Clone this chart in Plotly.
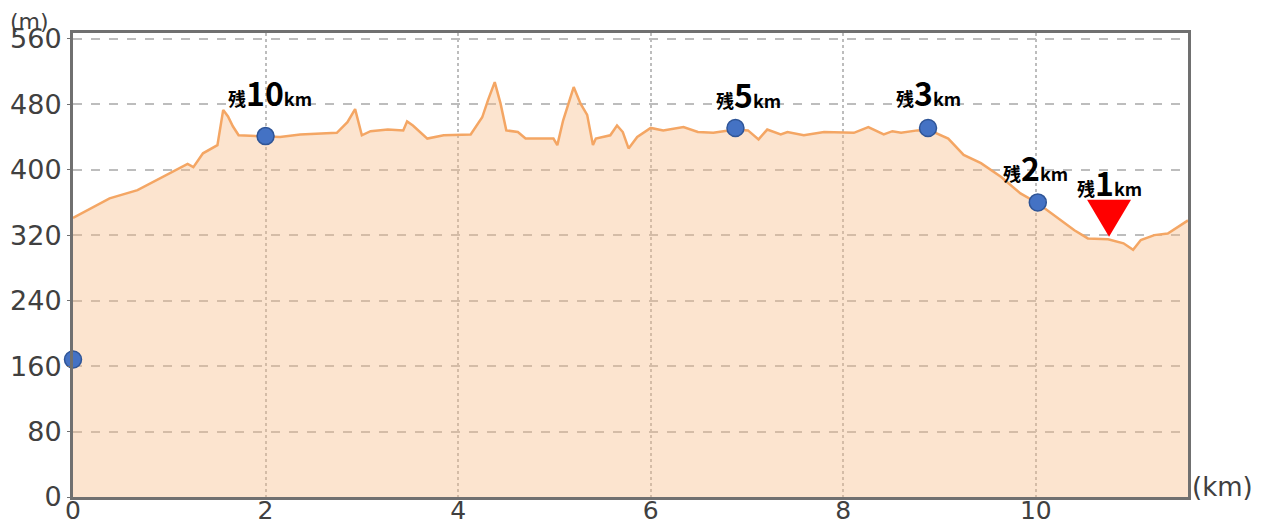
import plotly.graph_objects as go

# elevation profile (km, m)
dist_km = [0, 0.16, 0.38, 0.67, 1.01, 1.19, 1.25, 1.35, 1.50, 1.56, 1.61, 1.66, 1.72,
           2.02, 2.15, 2.36, 2.74, 2.85, 2.93, 3.00, 3.09, 3.27, 3.43, 3.47, 3.53, 3.68,
           3.85, 4.13, 4.25, 4.31, 4.38, 4.44, 4.50, 4.62, 4.70, 4.99, 5.03, 5.09, 5.20,
           5.27, 5.34, 5.40, 5.43, 5.58, 5.65, 5.71, 5.77, 5.86, 6.00, 6.13, 6.34, 6.49,
           6.65, 6.88, 7.01, 7.12, 7.21, 7.35, 7.42, 7.59, 7.80, 8.11, 8.26, 8.42, 8.51,
           8.60, 8.77, 8.88, 9.09, 9.25, 9.43, 9.64, 9.84, 10.02, 10.19, 10.40, 10.54,
           10.75, 10.91, 11.01, 11.09, 11.23, 11.37, 11.58]
elev_m = [341, 351, 365, 375, 396, 407, 403, 420, 430, 473, 465, 453, 442,
          441, 440, 443, 445, 458, 474, 442, 447, 449, 448, 459, 454, 438,
          442, 443, 464, 485, 507, 481, 448, 446, 438, 438, 430, 460, 501,
          481, 467, 430, 438, 442, 454, 446, 426, 440, 451, 448, 452, 446,
          445, 449, 448, 437, 449, 443, 446, 442, 446, 445, 452, 443, 447,
          445, 448, 449, 438, 418, 408, 391, 371, 359, 344, 326, 316,
          315, 310, 302, 314, 320, 322, 338]

# checkpoint markers
mark_x = [0, 2.0, 6.88, 8.88, 10.02]
mark_y = [168, 441, 451, 451, 360]

# remaining-distance labels
label_num = ["10", "5", "3", "2", "1"]
label_x = [2.05, 7.02, 8.88, 10.0, 10.76]
label_y = [495, 493, 495, 403, 385]

# 1 km remaining triangle
tri_x = [10.76]
tri_y = [318]

x_ticks = [0, 2, 4, 6, 8, 10]
y_ticks = [0, 80, 160, 240, 320, 400, 480, 560]

fig = go.Figure()
fig.add_trace(go.Scatter(
    x=dist_km, y=elev_m, mode="lines",
    line=dict(color="#F4A664", width=2.5),
    fill="tozeroy", fillcolor="rgba(247,187,135,0.4)",
    hoverinfo="skip", showlegend=False))
fig.add_trace(go.Scatter(
    x=mark_x, y=mark_y, mode="markers",
    marker=dict(size=17, color="#4472C4", line=dict(color="#2F5597", width=1.5)),
    cliponaxis=False, showlegend=False))

for n, lx, ly in zip(label_num, label_x, label_y):
    fig.add_annotation(
        x=lx, y=ly, xref="x", yref="y", showarrow=False,
        xanchor="center", yanchor="middle",
        text=('<b><span style="font-size:18px">残</span>'
              f'<span style="font-size:32px">{n}</span>'
              '<span style="font-size:18px">km</span></b>'),
        font=dict(family="Noto Sans CJK JP", color="#000000"))

for tx, ty in zip(tri_x, tri_y):
    fig.add_shape(type="path", xref="x", yref="y",
                  xsizemode="pixel", ysizemode="pixel",
                  xanchor=tx, yanchor=ty,
                  path="M-22,37 L22,37 L0,0 Z",
                  fillcolor="#FF0000", line=dict(width=0))

# plot area spans 1115 x 464 px
fig.add_annotation(x=-0.058, y=1.025, xref="paper", yref="paper",
                   text="(m)", showarrow=False, xanchor="left", yanchor="middle",
                   font=dict(family="DejaVu Sans", size=22, color="#404040"))
fig.add_annotation(x=1.0018, y=0.0216, xref="paper", yref="paper",
                   text="(km)", showarrow=False, xanchor="left", yanchor="middle",
                   font=dict(family="DejaVu Sans", size=26, color="#404040"))

# page body has an 8px margin, so the figure is made 8px smaller and offsets reduced
fig.update_layout(
    width=1267, height=518,
    margin=dict(l=65, r=87, t=25, b=29),
    paper_bgcolor="white", plot_bgcolor="white",
    font=dict(family="DejaVu Sans", size=27, color="#404040"),
    xaxis=dict(range=[0, 11.58], tickvals=x_ticks, ticktext=[str(v) for v in x_ticks],
               showgrid=True, gridcolor="#BDBDBD", griddash="dot", gridwidth=1.5,
               showline=True, linecolor="#707070", linewidth=3, mirror=True,
               ticks="", ticklabelstandoff=-11, tickfont=dict(size=25),
               zeroline=False, fixedrange=True, automargin=False),
    yaxis=dict(range=[0, 567], tickvals=y_ticks, ticktext=[str(v) for v in y_ticks],
               showgrid=True, gridcolor="#BDBDBD", griddash="dash", gridwidth=1.5,
               showline=True, linecolor="#707070", linewidth=3, mirror=True,
               ticks="outside", ticklen=3, tickcolor="#707070",
               zeroline=False, fixedrange=True, automargin=False),
)

fig.write_html("out.html")
